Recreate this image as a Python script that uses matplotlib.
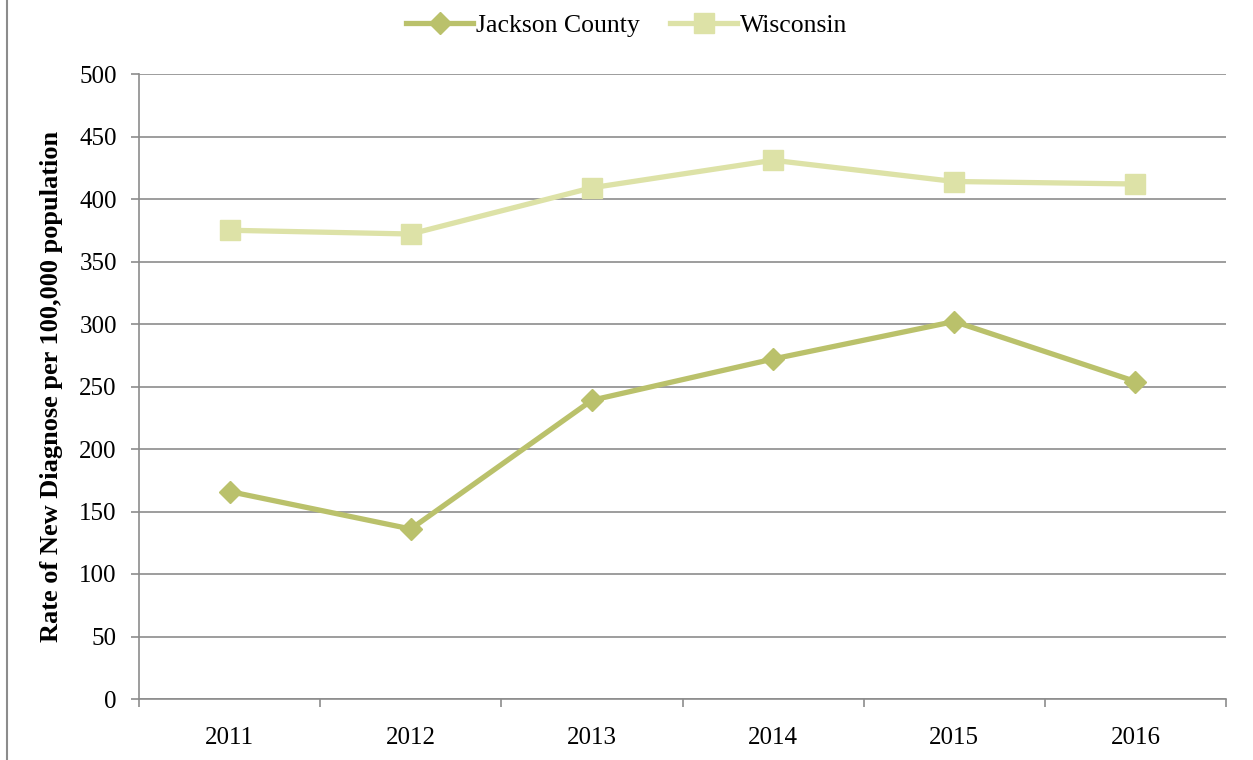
import matplotlib.pyplot as plt
from matplotlib.lines import Line2D

years = ["2011", "2012", "2013", "2014", "2015", "2016"]
jackson = [166, 136, 239, 272, 302, 254]
wisconsin = [375, 372, 409, 431, 414, 412]

plt.rcParams["font.family"] = ["Liberation Serif", "DejaVu Serif"]

fig = plt.figure(figsize=(12.53, 7.6), dpi=100)
ax = fig.add_axes([139 / 1253, 1 - 699 / 760, (1226 - 139) / 1253, (699 - 74) / 760])

x = range(len(years))
ax.plot(x, jackson, color="#BAC16B", lw=3.8, marker="D", markersize=11,
        label="Jackson County", solid_joinstyle="round", zorder=4)
ax.plot(x, wisconsin, color="#DDE2A7", lw=3.8, marker="s", markersize=14,
        label="Wisconsin", solid_joinstyle="round", zorder=3)

ax.set_xlim(-0.5, len(years) - 0.5)
ax.set_ylim(0, 500)
ax.set_yticks(range(0, 501, 50))
ax.set_xticks(x)
ax.set_xticklabels(years)
ax.set_xticks([i - 0.5 for i in range(len(years) + 1)], minor=True)
ax.tick_params(axis="x", which="major", length=0, pad=20, labelsize=18)
ax.tick_params(axis="x", which="minor", length=6, color="#8C8C8C", width=1.2)
ax.tick_params(axis="y", length=6, color="#8C8C8C", width=1.2, labelsize=18, pad=10)
ax.grid(axis="y", color="#8C8C8C", lw=1.2)
ax.set_axisbelow(True)
for s in ["top", "right"]:
    ax.spines[s].set_visible(False)
for s in ["left", "bottom"]:
    ax.spines[s].set_color("#8C8C8C")
    ax.spines[s].set_linewidth(1.2)

ax.set_ylabel("Rate of New Diagnose per 100,000 population", fontsize=19,
              fontweight="bold", labelpad=12)

fig.legend(loc="upper center", bbox_to_anchor=(0.5, 1.012), ncol=2, frameon=False,
           fontsize=18.5, handlelength=2.6, columnspacing=1.2, handletextpad=0.1)

fig.add_artist(Line2D([7 / 1253, 7 / 1253], [0, 1], color="#8C8C8C", lw=1.5))

fig.savefig("out.png", dpi=100)
